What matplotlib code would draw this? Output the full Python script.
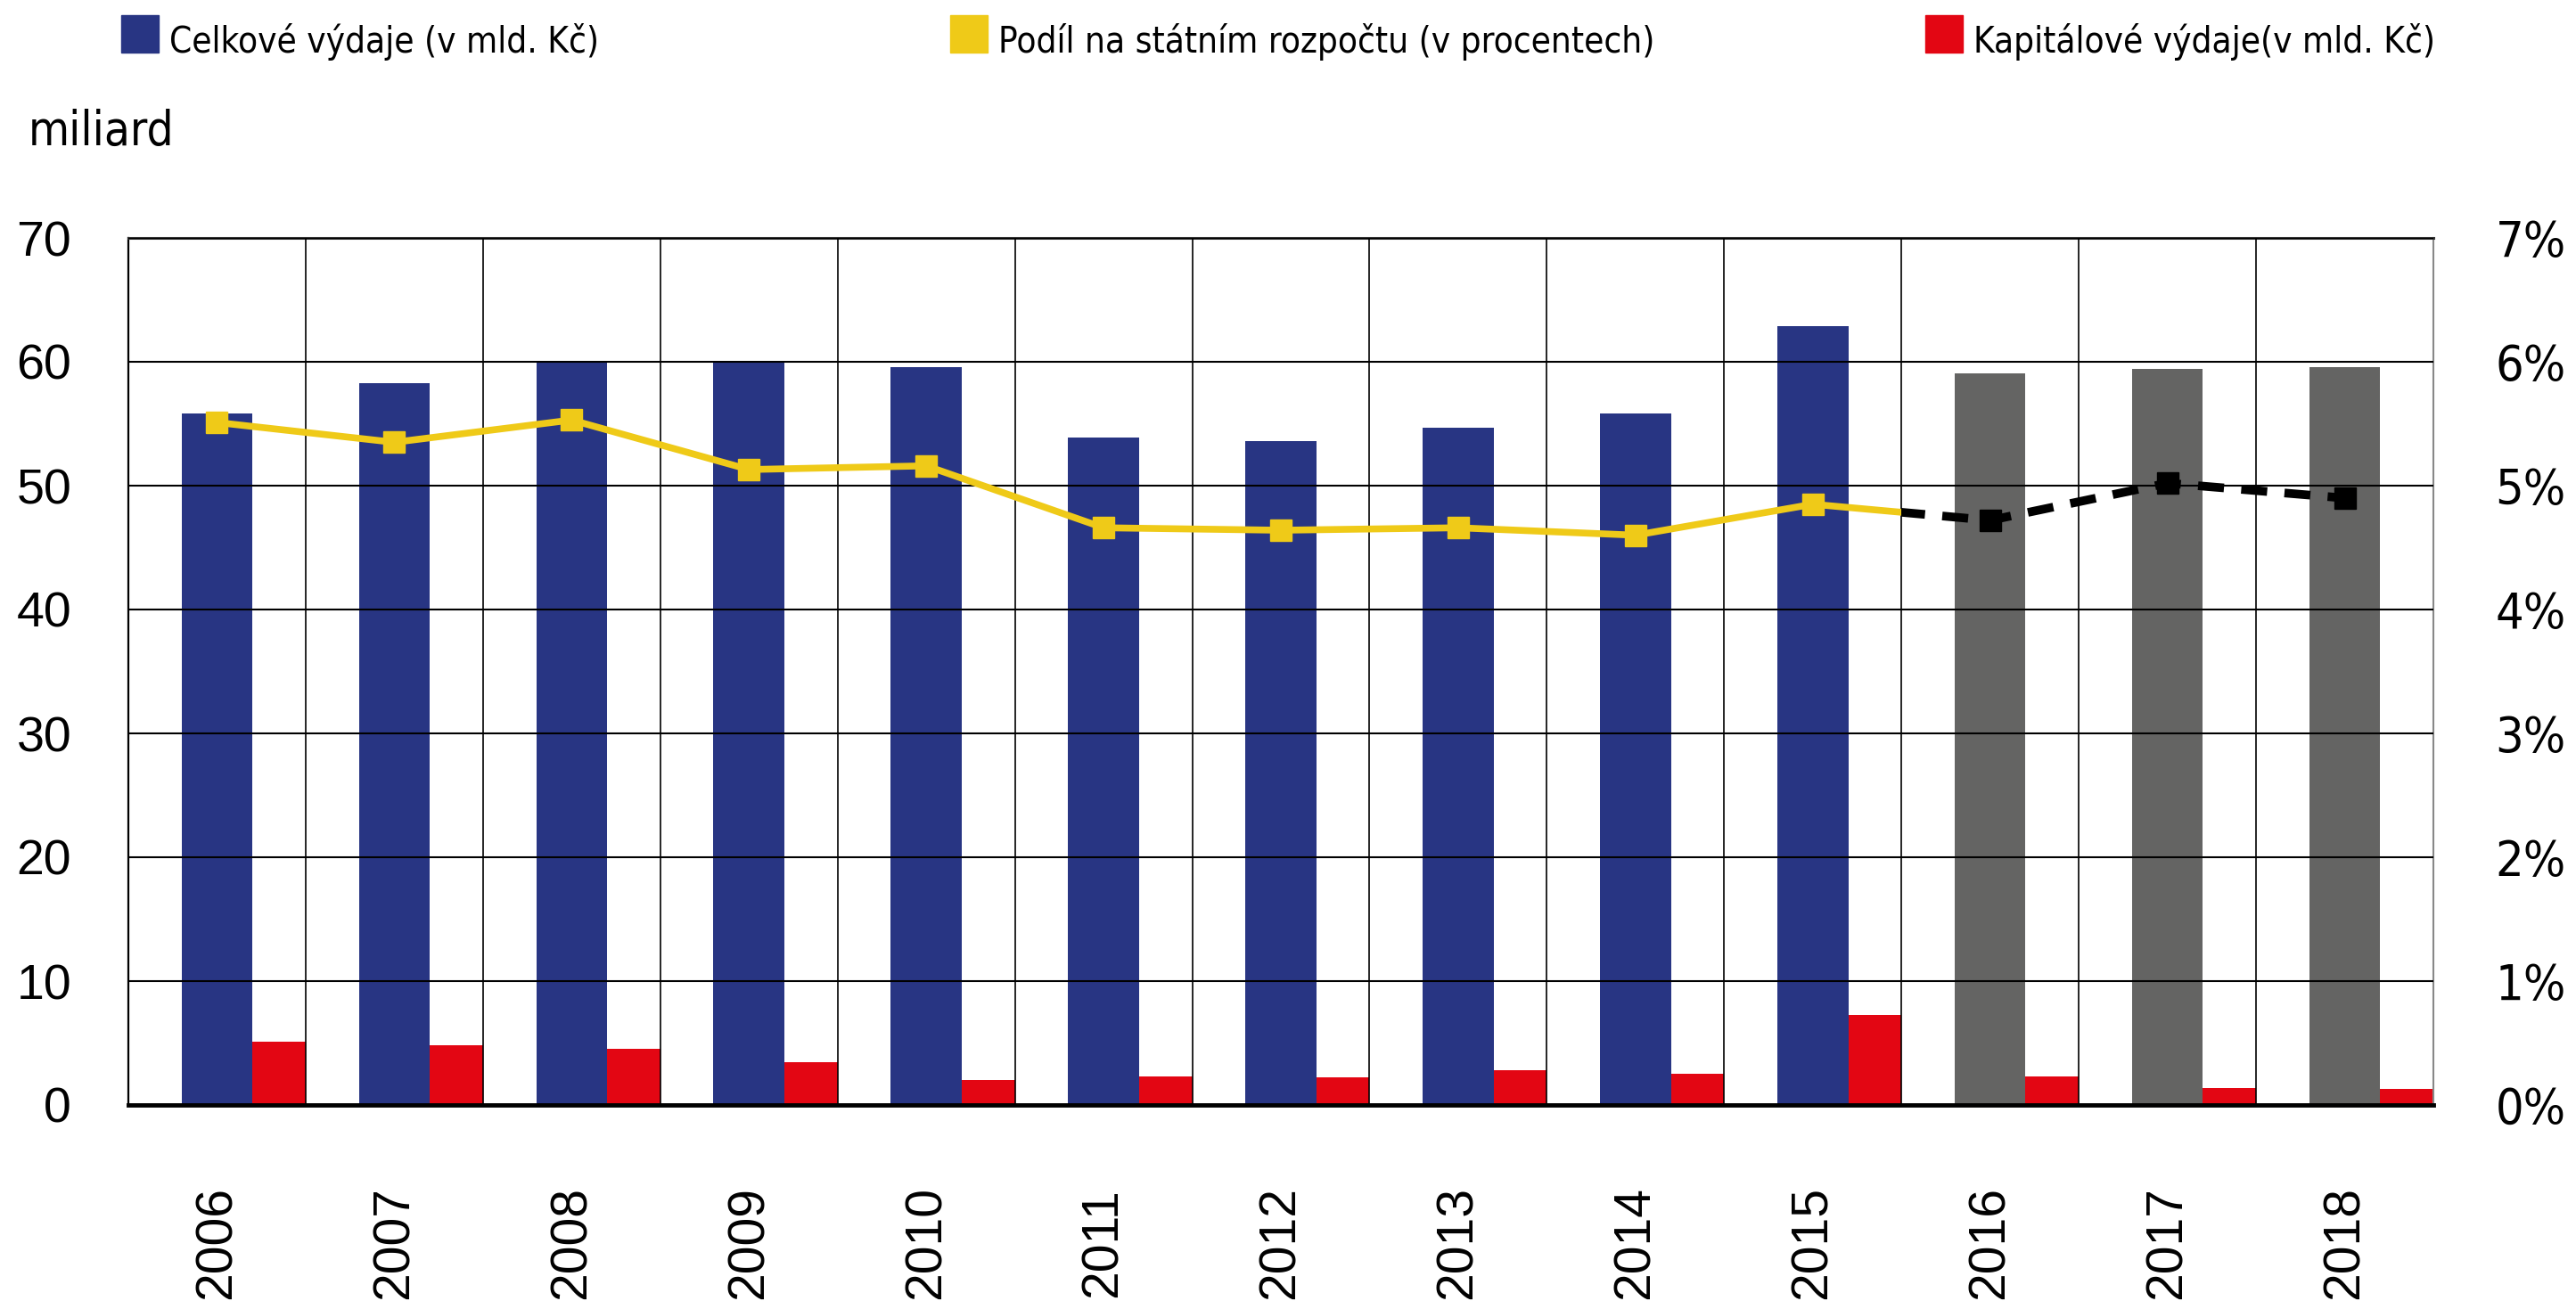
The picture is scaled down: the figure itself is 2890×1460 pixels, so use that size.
import matplotlib
matplotlib.use("Agg")
import matplotlib.pyplot as plt
from matplotlib.patches import Rectangle
from matplotlib.ticker import FixedLocator, FuncFormatter
from matplotlib import font_manager as fm
import numpy as np
import os

# ---------------- data ----------------
years = ["2006", "2007", "2008", "2009", "2010", "2011", "2012",
         "2013", "2014", "2015", "2016", "2017", "2018"]
total_spend = [55.8, 58.3, 59.9, 59.9, 59.6, 53.9, 53.6, 54.7, 55.8, 62.9, 59.1, 59.4, 59.6]
capital_spend = [5.1, 4.8, 4.5, 3.45, 2.0, 2.3, 2.2, 2.8, 2.5, 7.3, 2.3, 1.4, 1.3]
budget_share_pct = [5.51, 5.35, 5.53, 5.13, 5.16, 4.66, 4.64, 4.66, 4.60, 4.85, 4.72, 5.02, 4.90]
n_actual = 10  # 2006-2015 actual, 2016-2018 outlook

legend_labels = ["Celkové výdaje (v mld. Kč)",
                 "Podíl na státním rozpočtu (v procentech)",
                 "Kapitálové výdaje(v mld. Kč)"]
left_ticks = [0, 10, 20, 30, 40, 50, 60, 70]
right_ticks = [0, 1, 2, 3, 4, 5, 6, 7]

# ---------------- fonts ----------------
def find_condensed():
    files = [f.fname for f in fm.fontManager.ttflist]
    prefs = ["LiberationSansNarrow-Regular", "NotoSans-Condensed.", "NotoSans-SemiCondensed.",
             "DejaVuSansCondensed.", "RobotoCondensed-Regular", "OpenSans-CondensedRegular",
             "OpenSans_Condensed-Regular", "Arimo"]
    for p in prefs:
        for f in files:
            if p.lower() in os.path.basename(f).lower():
                return f
    for f in files:
        b = os.path.basename(f).lower()
        if ("condensed" in b or "narrow" in b) and "bold" not in b and "italic" not in b \
                and "light" not in b and "thin" not in b and "medium" not in b and "black" not in b:
            return f
    return None

COND_FILE = find_condensed()

def cond(size):
    if COND_FILE:
        return fm.FontProperties(fname=COND_FILE, size=size)
    return fm.FontProperties(family=["Liberation Sans", "DejaVu Sans"], size=size * 0.85)

REG = ["Liberation Sans", "DejaVu Sans"]

# ---------------- style ----------------
BLUE = "#283583"
GRAY = "#646463"
YELLOW = "#EFCA18"
RED = "#E30613"

W, H = 2890, 1460
fig = plt.figure(figsize=(W / 100, H / 100), dpi=100)
ax = fig.add_axes([144 / W, 1 - 1240 / H, (2730 - 144) / W, (1240 - 267) / H])

x = np.arange(len(years))
bar_colors = [BLUE] * n_actual + [GRAY] * (len(years) - n_actual)
ax.bar(x, total_spend, width=0.40, color=bar_colors, align="center", zorder=1)
ax.bar(x + 0.2, capital_spend, width=0.30, color=RED, align="edge", zorder=1)

ax.set_xlim(-0.5, len(years) - 0.5)
ax.set_ylim(0, 70)
ax.set_axisbelow(False)

ax.yaxis.set_major_locator(FixedLocator(left_ticks))
ax.yaxis.grid(True, color="black", linewidth=1.5)
ax.xaxis.set_major_locator(FixedLocator(list(x)))
ax.xaxis.set_minor_locator(FixedLocator(list(x[:-1] + 0.5)))
ax.xaxis.grid(True, which="minor", color="black", linewidth=1.2)
ax.xaxis.grid(False, which="major")
ax.set_xticklabels(years)

ax.tick_params(axis="y", length=0, pad=46)
ax.tick_params(axis="x", which="both", length=0)
ax.tick_params(axis="x", which="major", pad=111)
for lab in ax.get_yticklabels():
    lab.set_fontfamily(REG)
    lab.set_fontsize(40)
for lab in ax.get_xticklabels():
    lab.set_fontfamily(REG)
    lab.set_fontsize(41)
    lab.set_rotation(90)
    lab.set_verticalalignment("center")

ax.spines["left"].set_linewidth(1.6)
ax.spines["left"].set_color("black")
ax.spines["top"].set_linewidth(2.2)
ax.spines["top"].set_color("#333333")
ax.spines["right"].set_linewidth(1.5)
ax.spines["right"].set_color("#888888")
ax.spines["bottom"].set_linewidth(3.5)
ax.spines["bottom"].set_color("black")

# ---------------- secondary axis (percent) ----------------
ax2 = ax.twinx()
ax2.set_ylim(0, 7)
ax2.yaxis.set_major_locator(FixedLocator(right_ticks))
ax2.yaxis.set_major_formatter(FuncFormatter(lambda v, p: f"{v:.0f}%"))
ax2.tick_params(axis="y", length=0, pad=50)
for lab in ax2.get_yticklabels():
    lab.set_fontproperties(cond(40))
for s in ax2.spines.values():
    s.set_visible(False)

LW = 5.5
MS = 17
ax2.plot(x[:n_actual], budget_share_pct[:n_actual], color=YELLOW, lw=LW,
         marker="s", ms=MS, mec=YELLOW, mfc=YELLOW, zorder=3)

split = n_actual - 0.5
clip_left = Rectangle((-1, -10), split + 1, 30, transform=ax2.transData)
clip_right = Rectangle((split, -10), 10, 30, transform=ax2.transData)

conn, = ax2.plot(x[n_actual - 1:n_actual + 1], budget_share_pct[n_actual - 1:n_actual + 1],
                 color=YELLOW, lw=LW, zorder=3, solid_capstyle="butt")
conn.set_clip_path(clip_left)

dash, = ax2.plot(x[n_actual - 1:], budget_share_pct[n_actual - 1:], color="black", lw=7,
                 dashes=(3.0, 2.0), zorder=3, dash_capstyle="butt")
dash.set_clip_path(clip_right)
ax2.plot(x[n_actual:], budget_share_pct[n_actual:], ls="none", marker="s", ms=MS,
         mfc="black", mec="black", zorder=4)

# ---------------- legend (manual, top row) ----------------
patch_x = [136, 1066, 2160]
patch_colors = [BLUE, YELLOW, RED]
for px, col, lab in zip(patch_x, patch_colors, legend_labels):
    fig.add_artist(Rectangle((px / W, 1 - 59 / H), 42 / W, 42 / H,
                             transform=fig.transFigure, color=col))
    fig.text((px + 54) / W, 1 - 59 / H, lab, fontproperties=cond(29),
             ha="left", va="baseline")

fig.text(32 / W, 1 - 163 / H, "miliard", fontproperties=cond(38),
         ha="left", va="baseline")

fig.savefig("out.png", dpi=100)
